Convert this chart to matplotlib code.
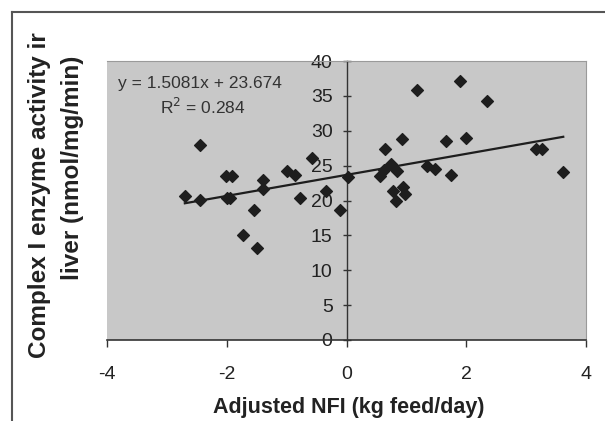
import matplotlib.pyplot as plt
from matplotlib.lines import Line2D

# adjusted NFI (kg feed/day) vs complex I activity (nmol/mg/min)
nfi = [-2.70, -2.44, -2.44, -2.01, -1.92, -2.00, -1.95, -1.39, -1.39, -1.55,
       -1.73, -1.50, -0.99, -0.86, -0.77, -0.58, -0.34, -0.11, 0.03, 0.65,
       0.93, 0.74, 0.63, 0.56, 0.84, 0.77, 0.94, 0.97, 0.82, 1.18,
       1.90, 2.35, 1.67, 2.00, 1.34, 1.47, 1.74, 3.16, 3.27, 3.62]
activity = [20.6, 27.9, 20.1, 23.5, 23.5, 20.4, 20.4, 22.9, 21.6, 18.7,
            15.1, 13.2, 24.2, 23.6, 20.4, 26.1, 21.3, 18.6, 23.4, 27.4,
            28.8, 25.2, 24.4, 23.5, 24.2, 21.3, 22.0, 21.0, 19.9, 35.9,
            37.1, 34.3, 28.5, 28.9, 25.0, 24.5, 23.6, 27.4, 27.4, 24.1]

slope = 1.5081
intercept = 23.674
r2 = 0.284

xticks = [-4, -2, 0, 2, 4]
yticks = [0, 5, 10, 15, 20, 25, 30, 35, 40]

plt.rcParams['font.family'] = ['Liberation Sans', 'DejaVu Sans']
plt.rcParams['axes.unicode_minus'] = False

fig = plt.figure(figsize=(6.05, 4.21), dpi=100)
ax = fig.add_axes([107 / 605, 1 - 340 / 421, 479 / 605, 279 / 421])
ax.set_facecolor('#c8c8c8')

ax.scatter(nfi, activity, marker='D', s=36, color='#1e1e1e', zorder=3)

x0, x1 = min(nfi), max(nfi)
ax.plot([x0, x1], [slope * x0 + intercept, slope * x1 + intercept],
        color='#1e1e1e', lw=1.6, zorder=4)

ax.set_xlim(-4, 4)
ax.set_ylim(0, 40)
ax.set_xticks(xticks)
ax.set_yticks(yticks)

ax.spines['left'].set_position(('data', 0))
ax.spines['left'].set_color('#333333')
ax.spines['bottom'].set_color('#333333')
ax.spines['left'].set_linewidth(1.0)
ax.spines['bottom'].set_linewidth(1.2)
for s in ['top', 'right']:
    ax.spines[s].set_color('#9a9a9a')
    ax.spines[s].set_linewidth(0.8)

ax.tick_params(axis='x', direction='out', length=5, width=1, pad=14,
               labelsize=14, colors='#333333', labelcolor='#222222')
ax.tick_params(axis='y', direction='inout', length=6, width=1, pad=7,
               labelsize=14, colors='#333333', labelcolor='#222222')

ax.text(-3.82, 36.8, 'y = 1.5081x + 23.674', fontsize=12.5, color='#333333',
        va='center')
ax.text(-3.11, 33.4, 'R$^2$ = %.3f' % r2, fontsize=12.5, color='#333333',
        va='center')

fig.text(349 / 605, 1 - 408 / 421, 'Adjusted NFI (kg feed/day)', ha='center',
         va='center', fontsize=15.5, fontweight='bold', color='#222222')
fig.text(40 / 605, 1 - 195 / 421, 'Complex I enzyme activity ir', rotation=90,
         ha='center', va='center', fontsize=17.5, fontweight='bold', color='#222222')
fig.text(73 / 605, 1 - 168 / 421, 'liver (nmol/mg/min)', rotation=90,
         ha='center', va='center', fontsize=17.5, fontweight='bold', color='#222222')

# chart frame (left and top edges visible)
fig.add_artist(Line2D([12 / 605, 12 / 605], [0, 1 - 12 / 421],
                      transform=fig.transFigure, color='#555555', lw=1.5))
fig.add_artist(Line2D([12 / 605, 1], [1 - 12 / 421, 1 - 12 / 421],
                      transform=fig.transFigure, color='#555555', lw=1.5))

fig.savefig('out.png', dpi=100)
